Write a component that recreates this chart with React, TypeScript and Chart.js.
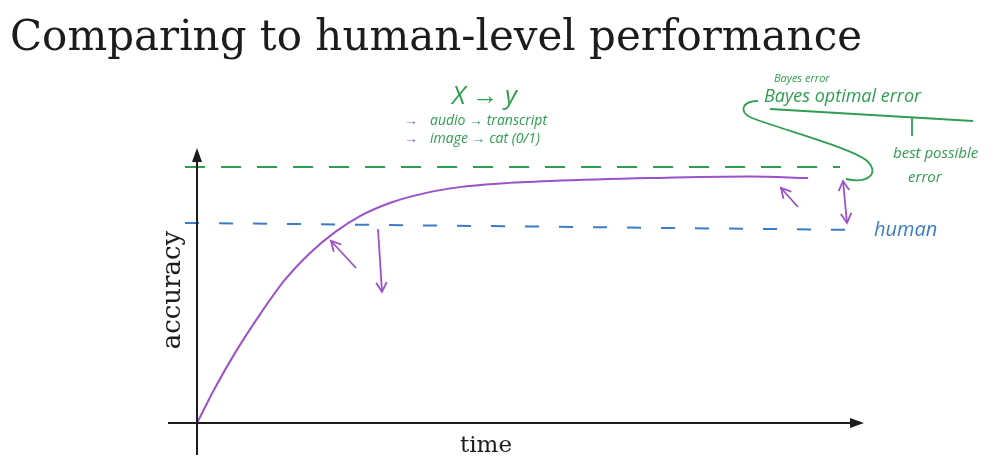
import React, { useEffect, useRef } from "react";
import { Chart, registerables } from "chart.js";

Chart.register(...registerables);

// ---- text ----
const TITLE = "Comparing to human-level performance";
const X_LABEL = "time";
const Y_LABEL = "accuracy";

// ---- data (time 0..100, accuracy 0..100) ----
const timeValues = [0, 2.7, 5.7, 9.5, 13.2, 17, 20.8, 24.5, 29, 34.3, 39.5, 45.6, 53.1, 68.1, 83.2, 91.9];
const accuracyValues = [0, 12.8, 25.6, 39.9, 52.4, 62.3, 70, 75.8, 80.6, 84.2, 86.4, 87.7, 88.6, 89.7, 90.3, 89.7];
const bayesTime = [-1.8, 96.7];
const bayesAccuracy = [93.8, 93.8];
const humanTime = [-1.8, 99.7];
const humanAccuracy = [73.3, 70.7];

const GREEN = "#2f9e50";
const BLUE = "#3b7dc4";
const PURPLE = "#9b52c9";
const INK = "#1c1c1c";

const toPoints = (xs: number[], ys: number[]) => xs.map((x, i) => ({ x, y: ys[i] }));

function arrowHead(ctx: CanvasRenderingContext2D, fx: number, fy: number, tx: number, ty: number, len: number) {
  const a = Math.atan2(ty - fy, tx - fx);
  ctx.beginPath();
  ctx.moveTo(tx - len * Math.cos(a - 0.5), ty - len * Math.sin(a - 0.5));
  ctx.lineTo(tx, ty);
  ctx.lineTo(tx - len * Math.cos(a + 0.5), ty - len * Math.sin(a + 0.5));
  ctx.stroke();
}

function penArrow(ctx: CanvasRenderingContext2D, fx: number, fy: number, tx: number, ty: number, both = false) {
  ctx.beginPath();
  ctx.moveTo(fx, fy);
  ctx.lineTo(tx, ty);
  ctx.stroke();
  arrowHead(ctx, fx, fy, tx, ty, 11);
  if (both) arrowHead(ctx, tx, ty, fx, fy, 11);
}

const decorPlugin = {
  id: "decor",
  afterDraw(chart: any) {
    const { ctx, chartArea } = chart;
    const { left, right, top, bottom } = chartArea;
    ctx.save();

    // axes
    ctx.strokeStyle = INK;
    ctx.fillStyle = INK;
    ctx.lineWidth = 2;
    ctx.beginPath();
    ctx.moveTo(left, bottom + 32);
    ctx.lineTo(left, top + 8);
    ctx.moveTo(left - 29, bottom);
    ctx.lineTo(right - 8, bottom);
    ctx.stroke();
    ctx.beginPath();
    ctx.moveTo(left, top - 2);
    ctx.lineTo(left - 5, top + 12);
    ctx.lineTo(left + 5, top + 12);
    ctx.closePath();
    ctx.fill();
    ctx.beginPath();
    ctx.moveTo(right + 2, bottom);
    ctx.lineTo(right - 12, bottom - 5);
    ctx.lineTo(right - 12, bottom + 5);
    ctx.closePath();
    ctx.fill();

    // title
    ctx.font = '43px "DejaVu Serif"';
    ctx.textBaseline = "alphabetic";
    ctx.textAlign = "left";
    const w = ctx.measureText(TITLE).width;
    ctx.save();
    ctx.translate(10, 50);
    ctx.scale(852 / w, 1);
    ctx.fillText(TITLE, 0, 0);
    ctx.restore();

    // axis labels
    ctx.font = '23px "DejaVu Serif"';
    ctx.textAlign = "center";
    ctx.textBaseline = "middle";
    ctx.fillText(X_LABEL, 486, 446);
    ctx.font = '26px "DejaVu Serif"';
    ctx.save();
    ctx.translate(173, 290);
    ctx.rotate(-Math.PI / 2);
    ctx.fillText(Y_LABEL, 0, 0);
    ctx.restore();

    // handwritten notes
    ctx.textAlign = "left";
    ctx.textBaseline = "alphabetic";
    ctx.fillStyle = GREEN;
    ctx.font = 'italic 26px "Open Sans"';
    ctx.fillText("X → y", 452, 104);
    ctx.font = 'italic 14px "Open Sans"';
    ctx.fillText("audio → transcript", 430, 125);
    ctx.fillText("image → cat (0/1)", 430, 143);
    ctx.fillStyle = PURPLE;
    ctx.fillText("→", 404, 125);
    ctx.fillText("→", 404, 143);

    ctx.fillStyle = GREEN;
    ctx.font = 'italic 11px "Open Sans"';
    ctx.fillText("Bayes error", 774, 82);
    ctx.font = 'italic 18px "Open Sans"';
    ctx.fillText("Bayes optimal error", 764, 102);
    ctx.font = 'italic 15px "Open Sans"';
    ctx.fillText("best possible", 893, 158);
    ctx.fillText("error", 908, 182);

    ctx.strokeStyle = GREEN;
    ctx.lineWidth = 1.8;
    ctx.beginPath();
    ctx.moveTo(770, 109);
    ctx.lineTo(973, 121);
    ctx.moveTo(912, 118);
    ctx.lineTo(912, 136);
    ctx.stroke();
    ctx.beginPath();
    ctx.moveTo(758, 101);
    ctx.bezierCurveTo(742, 101, 738, 112, 752, 118);
    ctx.bezierCurveTo(790, 132, 850, 148, 866, 160);
    ctx.bezierCurveTo(880, 172, 870, 184, 846, 179);
    ctx.stroke();

    ctx.fillStyle = BLUE;
    ctx.font = 'italic 20px "Open Sans"';
    ctx.fillText("human", 874, 236);

    // purple arrows
    ctx.strokeStyle = PURPLE;
    ctx.lineWidth = 1.8;
    penArrow(ctx, 356, 268, 331, 241);
    penArrow(ctx, 378, 229, 382, 292);
    penArrow(ctx, 798, 207, 781, 188);
    penArrow(ctx, 843, 181, 847, 223, true);

    ctx.restore();
  },
};

export default function App() {
  const ref = useRef<HTMLCanvasElement | null>(null);
  useEffect(() => {
    if (!ref.current) return;
    const chart = new Chart(ref.current, {
      type: "line",
      data: {
        datasets: [
          {
            label: "accuracy",
            data: toPoints(timeValues, accuracyValues),
            borderColor: PURPLE,
            borderWidth: 2,
            pointRadius: 0,
            cubicInterpolationMode: "monotone",
            clip: false,
          } as any,
          {
            label: "Bayes optimal error",
            data: toPoints(bayesTime, bayesAccuracy),
            borderColor: GREEN,
            borderWidth: 2,
            borderDash: [20, 16],
            pointRadius: 0,
            clip: false,
          } as any,
          {
            label: "human",
            data: toPoints(humanTime, humanAccuracy),
            borderColor: BLUE,
            borderWidth: 2,
            borderDash: [14, 20],
            pointRadius: 0,
            clip: false,
          } as any,
        ],
      },
      options: {
        responsive: false,
        animation: false,
        layout: { padding: { left: 197, right: 131, top: 150, bottom: 43 } },
        scales: {
          x: { type: "linear", min: 0, max: 100, display: false },
          y: { type: "linear", min: 0, max: 100, display: false },
        },
        plugins: { legend: { display: false }, tooltip: { enabled: false } },
      },
      plugins: [decorPlugin],
    });
    return () => chart.destroy();
  }, []);
  return (
    <div style={{ position: "fixed", left: 0, top: 0, width: 993, height: 466, background: "#fff" }}>
      <canvas ref={ref} width={993} height={466} style={{ width: 993, height: 466, display: "block" }} />
    </div>
  );
}
